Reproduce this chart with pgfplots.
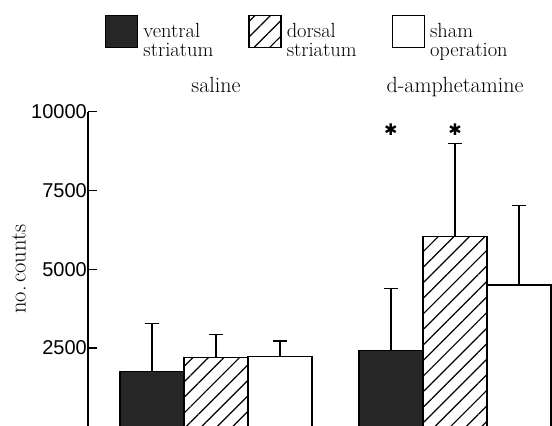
\documentclass[border=0pt]{standalone}
\usepackage{fontspec}
\usepackage{pgfplots}
\usepackage{pgfplotstable}
\pgfplotsset{compat=1.18}
\usetikzlibrary{patterns.meta}
\newfontfamily\tickfont{Liberation Sans}
\newfontfamily\symfont{DejaVu Sans}

\pgfplotsset{boxlegend/.style={legend image code/.code={\draw[##1] (0pt,-11pt) rectangle (32pt,21pt); \path (35pt,0pt);}}}

% x: 0 = saline, 1 = d-amphetamine
\pgfplotstableread{
x y e
0 1750 1520
1 2420 1960
}\ventral
\pgfplotstableread{
x y e
0 2200 720
1 6030 2950
}\dorsal
\pgfplotstableread{
x y e
0 2230 490
1 4500 2520
}\sham

\begin{document}
\begin{tikzpicture}
\useasboundingbox (0,0) rectangle (552pt,426pt);
\clip (0,0) rectangle (552pt,426pt);
\begin{axis}[
  at={(88pt,-0.7pt)}, anchor=south west,
  scale only axis, width=464pt, height=315pt,
  xmin=-0.53556, xmax=1.40586, ymin=0, ymax=10000,
  axis x line=none, axis y line=left,
  y axis line style={-, line width=1.2pt, black},
  ytick={2500,5000,7500,10000},
  scaled y ticks=false,
  tick align=inside, major tick length=9pt,
  tick style={line width=1.2pt, black},
  yticklabel style={font=\tickfont\fontsize{20}{20}\selectfont, /pgf/number format/1000 sep={}, /pgf/number format/assume math mode=true, inner sep=1pt},
  ylabel={no.\,counts},
  ylabel style={at={(axis description cs:-0.149,0.5)}, anchor=center, font=\fontsize{22.5}{22.5}\selectfont},
  clip=false,
  ybar=0pt, bar width=64pt,
  legend columns=3,
  legend cell align=left,
  legend style={at={(axis description cs:0.0366,1.3079)}, anchor=north west, draw=none, fill=none, inner sep=0pt,
    font=\fontsize{20.5}{18}\selectfont,
    /tikz/every even column/.append style={column sep=33pt}},
  error bars/y dir=plus, error bars/y explicit,
  error bars/error bar style={line width=1.1pt, black},
  error bars/error mark options={line width=1.1pt, black, mark size=7pt, rotate=90},
]
\addplot[draw=black, line width=1.3pt, fill=black!85, boxlegend]
  table[x=x, y=y, y error=e]{\ventral};
\addlegendentry{\begin{tabular}[c]{@{}l@{}}ventral\\striatum\end{tabular}}
\addplot[draw=black, line width=1.3pt, pattern={Lines[angle=45, distance=11pt, line width=1.2pt]}, boxlegend]
  table[x=x, y=y, y error=e]{\dorsal};
\addlegendentry{\begin{tabular}[c]{@{}l@{}}dorsal\\striatum\end{tabular}}
\addplot[draw=black, line width=1.3pt, fill=white, boxlegend]
  table[x=x, y=y, y error=e]{\sham};
\addlegendentry{\begin{tabular}[c]{@{}l@{}}sham\\operation\end{tabular}}
\node[anchor=base, font=\fontsize{22}{22}\selectfont] at (axis cs:0,10605) {saline};
\node[anchor=base, font=\fontsize{22}{22}\selectfont] at (axis cs:1,10605) {d-amphetamine};
\node[font=\symfont\fontsize{16}{16}\selectfont] at (axis cs:0.732,9430) {✱};
\node[font=\symfont\fontsize{16}{16}\selectfont] at (axis cs:1,9430) {✱};
\end{axis}
\end{tikzpicture}
\end{document}
